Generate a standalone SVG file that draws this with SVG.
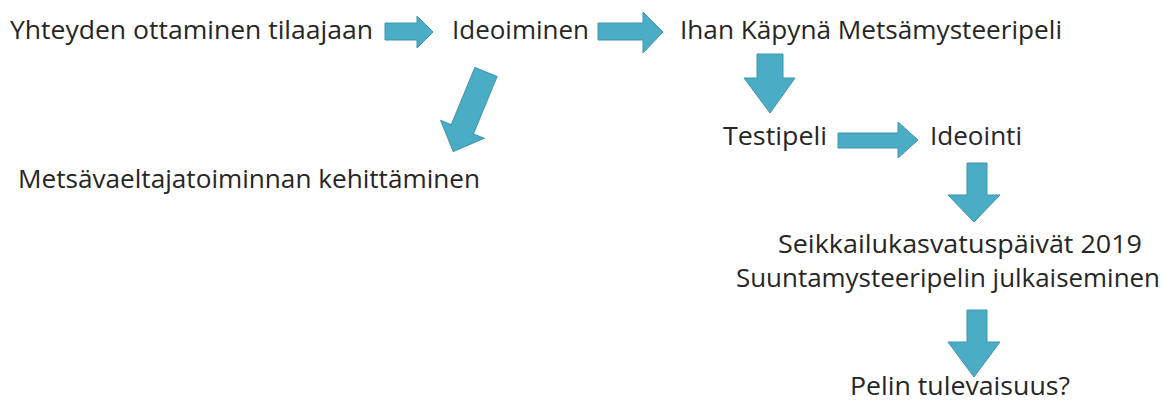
<svg xmlns="http://www.w3.org/2000/svg" width="1165" height="401" viewBox="0 0 1165 401">
<style>
.t{font-family:"Open Sans","Noto Sans","Liberation Sans",sans-serif;font-size:26px;fill:#262626}
.a{fill:#4bacc6;stroke:#3f95ad;stroke-width:1}
</style>
<rect width="1165" height="401" fill="#ffffff"/>
<g id="connectors">
<polygon class="a" points="385,23 417,23 417,16 433,32 417,48 417,40 385,40"/>
<polygon class="a" points="598,23 643,23 643,12 663,32 643,53 643,40 598,40"/>
<polygon class="a" transform="translate(486,72) rotate(22.4)" points="-12,0 12,0 12,62 23.5,62 0,86 -23.5,62 -12,62"/>
<polygon class="a" points="757,54 783,54 783,78 795,78 770,113 744,78 757,78"/>
<polygon class="a" points="838,133 898,133 898,122 918,140 898,158 898,148 838,148"/>
<polygon class="a" points="967,163 987,163 987,195 1000,195 974,222 948,195 967,195"/>
<polygon class="a" points="967,310 987,310 987,342 1000,342 974,377 948,342 967,342"/>
</g>
<g id="n1"><text class="t" x="10" y="39" textLength="363" lengthAdjust="spacingAndGlyphs">Yhteyden ottaminen tilaajaan</text></g>
<g id="n2"><text class="t" x="452" y="39" textLength="137" lengthAdjust="spacingAndGlyphs">Ideoiminen</text></g>
<g id="n3"><text class="t" x="680" y="39" textLength="382" lengthAdjust="spacingAndGlyphs">Ihan Käpynä Metsämysteeripeli</text></g>
<g id="n4"><text class="t" x="18" y="188" textLength="462" lengthAdjust="spacingAndGlyphs">Metsävaeltajatoiminnan kehittäminen</text></g>
<g id="n5"><text class="t" x="723" y="145" textLength="104" lengthAdjust="spacingAndGlyphs">Testipeli</text></g>
<g id="n6"><text class="t" x="930" y="145" textLength="92" lengthAdjust="spacingAndGlyphs">Ideointi</text></g>
<g id="n7"><text class="t" x="778" y="253" textLength="364" lengthAdjust="spacingAndGlyphs">Seikkailukasvatuspäivät 2019</text></g>
<g id="n8"><text class="t" x="736" y="287" textLength="424" lengthAdjust="spacingAndGlyphs">Suuntamysteeripelin julkaiseminen</text></g>
<g id="n9"><text class="t" x="850" y="395" textLength="220" lengthAdjust="spacingAndGlyphs">Pelin tulevaisuus?</text></g>
</svg>
